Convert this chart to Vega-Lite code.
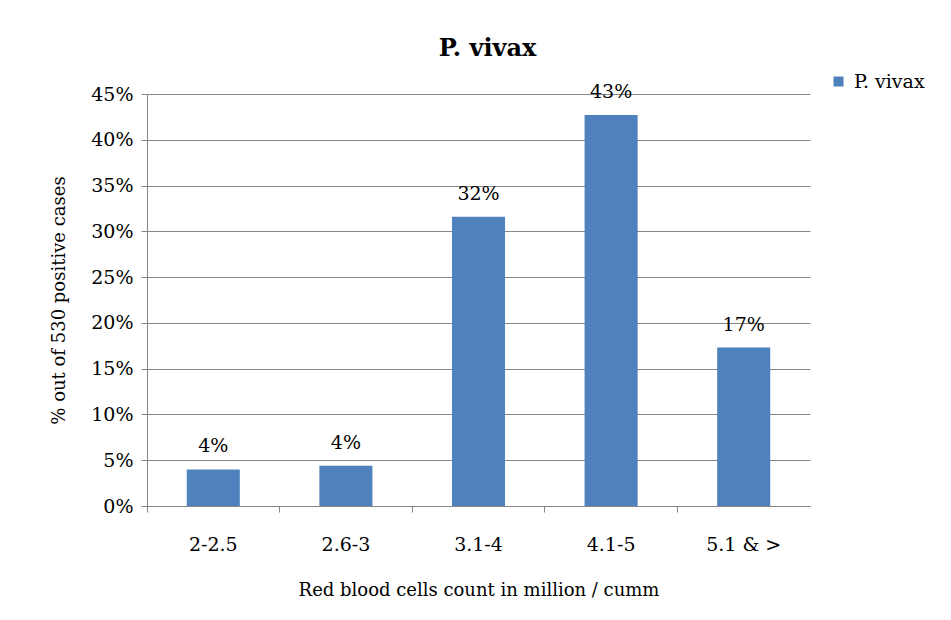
{
  "$schema": "https://vega.github.io/schema/vega-lite/v6.json",
  "autosize": {"type": "none"},
  "width": 663,
  "height": 412,
  "padding": {"left": 147, "top": 94, "right": 141, "bottom": 114},
  "background": "white",
  "title": {
    "text": "P. vivax",
    "font": "DejaVu Serif",
    "fontSize": 24,
    "fontWeight": "bold",
    "color": "#000000",
    "anchor": "middle",
    "offset": 11,
    "dx": 9
  },
  "data": {
    "values": [
      {"range": "2-2.5", "pct": 0.040, "series": "P. vivax"},
      {"range": "2.6-3", "pct": 0.044, "series": "P. vivax"},
      {"range": "3.1-4", "pct": 0.316, "series": "P. vivax"},
      {"range": "4.1-5", "pct": 0.427, "series": "P. vivax"},
      {"range": "5.1 & >", "pct": 0.173, "series": "P. vivax"}
    ]
  },
  "encoding": {
    "x": {
      "field": "range",
      "type": "nominal",
      "sort": null,
      "scale": {"paddingInner": 0, "paddingOuter": 0},
      "axis": {
        "title": "Red blood cells count in million / cumm",
        "labelAngle": 0,
        "bandPosition": 0,
        "labelFont": "DejaVu Serif",
        "labelFontSize": 19,
        "labelColor": "#000000",
        "labelPadding": 23,
        "titleFont": "DejaVu Serif",
        "titleFontSize": 18,
        "titleFontWeight": "normal",
        "titleColor": "#000000",
        "titlePadding": 27,
        "domainColor": "#868686",
        "tickColor": "#868686",
        "tickSize": 6,
        "grid": false
      }
    },
    "y": {
      "field": "pct",
      "type": "quantitative",
      "scale": {"domain": [0, 0.45], "nice": false},
      "axis": {
        "title": "% out of 530 positive cases",
        "values": [0, 0.05, 0.1, 0.15, 0.2, 0.25, 0.3, 0.35, 0.4, 0.45],
        "format": ".0%",
        "labelFont": "DejaVu Serif",
        "labelFontSize": 19,
        "labelColor": "#000000",
        "labelPadding": 8,
        "titleFont": "DejaVu Serif",
        "titleFontSize": 18,
        "titleFontWeight": "normal",
        "titleColor": "#000000",
        "titlePadding": 22,
        "domainColor": "#868686",
        "tickColor": "#868686",
        "tickSize": 6,
        "grid": true,
        "gridColor": "#868686",
        "gridWidth": 1
      }
    }
  },
  "layer": [
    {
      "mark": {"type": "bar", "width": {"band": 0.4}},
      "encoding": {
        "color": {
          "field": "series",
          "type": "nominal",
          "scale": {"range": ["#4F81BD"]},
          "legend": {
            "title": null,
            "orient": "none",
            "legendX": 682,
            "legendY": -22,
            "symbolType": "square",
            "symbolSize": 100,
            "symbolStrokeWidth": 0,
            "labelFont": "DejaVu Serif",
            "labelFontSize": 19,
            "labelColor": "#000000",
            "labelOffset": 6
          }
        }
      }
    },
    {
      "mark": {
        "type": "text",
        "dy": -23,
        "font": "DejaVu Serif",
        "fontSize": 19,
        "color": "#000000"
      },
      "encoding": {
        "text": {"field": "pct", "type": "quantitative", "format": ".0%"}
      }
    }
  ],
  "config": {
    "view": {"stroke": null},
    "legend": {"labelFont": "DejaVu Serif"}
  }
}
